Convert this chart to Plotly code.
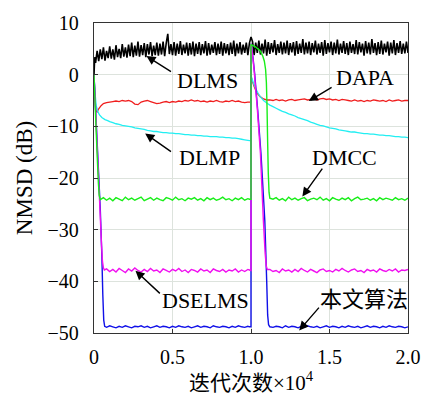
import plotly.graph_objects as go

# ---------------- data (x in units of 10^4 iterations, y in dB) ----------------
def grid(start, step, n):
    return [round(start + i * step, 4) for i in range(n)]

# DLMS (black)
dlms_head_x = [0, 0.003, 0.006]
dlms_head_y = [0, 2.2, 3.4]
dlms_vals = [
    2.3, 4.6, 2.6, 4.9, 3.0, 5.3, 2.7, 4.6, 3.2, 5.5, 3.1, 4.9, 2.9, 5.7, 3.4, 5.0, 3.2, 5.9, 3.5, 5.3,
    3.3, 5.8, 3.6, 6.2, 3.4, 5.6, 3.7, 6.4, 3.5, 5.7, 3.8, 6.1, 3.4, 5.9, 3.9, 6.3, 3.6, 5.6, 3.8, 6.2,
    3.7, 6.0, 3.9, 6.4, 3.6, 6.1, 7.9, 4.0, 5.9, 3.8, 6.3, 3.7, 6.0, 4.0, 6.5, 3.8, 5.8, 4.1, 6.2, 3.7,
    6.1, 3.9, 6.4, 3.6, 6.0, 4.0, 6.3, 3.8, 5.9, 4.1, 6.5, 3.7, 6.1, 3.9, 5.8, 4.2, 6.3, 3.8, 6.0, 4.0,
    6.4, 3.7, 6.1, 4.1, 5.9, 3.8, 6.2, 4.0, 6.6, 3.6, 6.0, 4.1, 6.3, 3.9, 5.8, 4.2, 6.2, 3.8, 6.1, 7.3,
    6.4, 3.8, 6.2, 4.2, 6.6, 3.9, 6.0, 4.1, 6.8, 3.7, 6.3, 4.0, 6.1, 4.3, 6.7, 3.8, 5.9, 4.2, 6.4, 3.9,
    6.2, 4.1, 6.6, 3.8, 6.1, 4.3, 6.3, 3.7, 6.5, 4.0, 6.0, 4.2, 6.9, 3.9, 6.2, 4.1, 6.4, 3.8, 6.1, 4.3,
    6.6, 3.9, 6.0, 4.2, 6.3, 3.7, 6.7, 4.0, 6.1, 4.3, 6.4, 3.8, 6.2, 4.1, 6.8, 3.9, 6.0, 4.2, 6.5, 4.0,
    6.1, 3.8, 6.4, 4.2, 5.9, 4.0, 6.7, 3.9, 6.3, 4.3, 6.0, 3.7, 6.5, 4.1, 6.2, 3.9, 6.9, 4.2, 6.1, 3.8,
    6.3, 4.0, 6.6, 3.9, 6.0, 4.3, 6.4, 3.7, 6.2, 4.1, 6.7, 3.8, 6.1, 4.2, 6.5, 4.0, 6.0, 4.1, 6.4, 4.2,
]

# DAPA (red)
dapa_t1_x = [0, 0.005, 0.012, 0.02, 0.03, 0.045, 0.06, 0.08, 0.1]
dapa_t1_y = [0, -4.0, -7.0, -7.2, -6.6, -6.0, -5.6, -5.4, -5.3]
dapa_p1 = [
    -5.2, -5.1, -5.2, -5.0, -5.1, -5.0, -5.2, -5.7, -5.8, -5.3,
    -5.1, -5.0, -5.2, -5.4, -5.6, -5.5, -5.3, -5.2, -5.4, -5.2,
    -5.3, -5.1, -5.2, -5.0, -5.1, -4.9, -5.1, -5.0, -5.2, -5.1,
    -5.3, -5.1, -5.2, -5.0, -5.2, -5.3, -5.1, -5.2, -5.0, -5.2,
    -5.1, -5.3, -5.4, -5.3,
]
dapa_t2_x = [1.0, 1.0, 1.01, 1.02, 1.03, 1.045, 1.06, 1.08, 1.1]
dapa_t2_y = [-5.3, -0.3, -1.4, -2.3, -3.0, -3.8, -4.3, -4.7, -4.9]
dapa_p2 = [
    -4.9, -5.0, -4.8, -5.0, -4.9, -5.1, -4.9, -4.8, -5.0, -4.9,
    -4.8, -4.7, -4.9, -4.8, -4.7, -4.9, -4.7, -4.6, -4.8, -4.7,
    -4.9, -4.8, -5.0, -4.8, -4.9, -5.0, -5.1, -4.9, -5.1, -5.0,
    -5.2, -5.0, -5.1, -4.9, -5.0, -5.1, -5.0, -5.2, -4.9, -5.1,
    -5.0, -4.9, -5.1, -5.0, -5.0,
]

# DLMP (cyan)
dlmp_t1_x = [0, 0.005, 0.014, 0.025, 0.035, 0.05, 0.07, 0.087, 0.1]
dlmp_t1_y = [0, -3.0, -6.0, -7.2, -7.8, -8.3, -8.7, -8.9, -9.1]
dlmp_p1 = [
    -9.3, -9.5, -9.6, -9.8, -9.9, -10.0, -10.1, -10.3, -10.4, -10.5,
    -10.6, -10.8, -10.9, -11.0, -11.0, -11.1, -11.2, -11.2, -11.3, -11.3,
    -11.4, -11.4, -11.5, -11.6, -11.6, -11.7, -11.7, -11.8, -11.8, -11.9,
    -11.9, -12.0, -12.0, -12.0, -12.1, -12.1, -12.2, -12.2, -12.3, -12.3,
    -12.4, -12.5, -12.6, -12.7,
]
dlmp_t2_x = [1.0, 1.0, 1.003, 1.015, 1.028, 1.045, 1.06, 1.08, 1.1]
dlmp_t2_y = [-12.8, 0.0, -0.5, -1.6, -2.6, -3.6, -4.3, -5.0, -5.5]
dlmp_p2 = [
    -5.9, -6.2, -6.5, -6.8, -7.1, -7.3, -7.6, -7.8, -8.0, -8.3,
    -8.5, -8.7, -8.9, -9.2, -9.4, -9.6, -9.8, -9.9, -10.1, -10.3,
    -10.4, -10.5, -10.7, -10.8, -10.9, -11.0, -11.1, -11.1, -11.2, -11.3,
    -11.4, -11.4, -11.5, -11.5, -11.6, -11.7, -11.7, -11.8, -11.8, -11.9,
    -12.0, -12.0, -12.1, -12.1, -12.2,
]

# DSELMS (magenta)
dselms_t1_x = [0, 0.01, 0.02, 0.03, 0.04, 0.048, 0.054, 0.06, 0.066]
dselms_t1_y = [0, -6.8, -13.8, -20.5, -27.5, -33.0, -36.2, -37.4, -37.8]
dselms_p1 = [
    -37.6, -38.1, -37.7, -38.2, -37.5, -37.9, -38.3, -37.6, -38.0, -37.4,
    -37.9, -38.2, -37.7, -38.1, -37.5, -38.0, -37.8, -38.3, -37.6, -37.9,
    -38.2, -37.7, -38.0, -37.5, -38.1, -37.8, -38.3, -37.7, -37.9, -38.2,
    -37.6, -38.0, -37.8, -38.3, -37.6, -37.9, -38.1, -37.7, -38.2, -37.8,
    -38.0, -37.6, -38.2, -37.8, -38.1, -37.7,
]
dselms_t2_x = [0.99, 1.0, 1.0, 1.01, 1.02, 1.04, 1.06, 1.079, 1.09, 1.097, 1.104]
dselms_t2_y = [-37.8, -37.9, 6.0, 3.8, 0.8, -6.5, -15.2, -28.3, -34.5, -37.0, -37.7]
dselms_p2 = [
    -37.7, -38.1, -37.9, -38.3, -37.6, -38.0, -37.8, -38.2, -37.7, -38.1,
    -37.5, -37.9, -38.2, -37.7, -38.0, -38.3, -37.8, -37.6, -38.1, -37.9,
    -38.2, -37.7, -38.0, -37.5, -37.9, -38.2, -37.8, -37.6, -38.1, -37.9,
    -38.3, -37.7, -38.0, -37.8, -38.2, -37.6, -37.9, -38.1, -37.7, -38.0,
    -37.6, -38.2, -37.8, -37.9, -37.7,
]

# DMCC (green)
dmcc_t1_x = [0, 0.01, 0.02, 0.028, 0.033, 0.038]
dmcc_t1_y = [0, -8.0, -15.5, -21.0, -23.3, -24.0]
dmcc_p1 = [
    -24.2, -23.8, -24.3, -23.9, -24.4, -23.8, -24.1, -24.4, -23.7, -24.2,
    -23.9, -24.3, -24.0, -23.7, -24.4, -24.1, -23.8, -24.3, -23.9, -24.2,
    -24.4, -23.8, -24.0, -24.3, -23.7, -24.2, -24.0, -24.4, -23.9, -24.1,
    -23.8, -24.3, -24.0, -24.4, -23.8, -24.2, -23.9, -24.3, -24.1, -23.7,
    -24.2, -24.0, -24.4, -23.9, -24.2, -23.8, -24.3, -24.0,
]
dmcc_t2_x = [0.99, 1.0, 1.0, 1.028, 1.059, 1.075, 1.085, 1.093, 1.098, 1.102, 1.106, 1.11, 1.115, 1.12]
dmcc_t2_y = [-24.1, -24.1, 5.8, 5.4, 4.6, 3.6, 2.6, 1.0, -1.5, -6.0, -13.0, -19.0, -22.8, -23.9]
dmcc_p2 = [
    -24.1, -23.8, -24.3, -24.0, -24.4, -23.7, -24.2, -23.9, -24.3, -24.0,
    -23.8, -24.4, -24.1, -23.9, -24.2, -23.7, -24.3, -24.0, -24.4, -23.8,
    -24.1, -24.3, -23.9, -24.2, -23.8, -24.4, -24.0, -23.7, -24.2, -24.1,
    -23.9, -24.3, -24.0, -24.4, -23.8, -24.2, -23.9, -24.1, -24.3, -23.8,
    -24.2, -24.0, -24.3, -23.9,
]

# Proposed algorithm (blue)
prop_t1_x = [0, 0.01, 0.02, 0.03, 0.04, 0.05, 0.056, 0.062, 0.068]
prop_t1_y = [0, -6.5, -13.0, -19.5, -26.0, -35.0, -42.5, -47.5, -48.7]
prop_p1 = [
    -48.9, -48.6, -48.8, -49.0, -48.7, -48.9, -48.6, -48.8, -49.0, -48.7,
    -48.8, -48.6, -48.9, -48.7, -49.0, -48.8, -48.6, -48.9, -48.7, -48.8,
    -49.0, -48.7, -48.9, -48.6, -48.8, -48.9, -48.7, -49.0, -48.8, -48.6,
    -48.9, -48.7, -48.8, -49.0, -48.6, -48.8, -48.9, -48.7, -48.8, -49.0,
    -48.7, -48.9, -48.6, -48.8, -48.9, -48.7,
]
prop_t2_x = [0.99, 1.0, 1.0, 1.012, 1.023, 1.043, 1.064, 1.088, 1.1, 1.106, 1.112, 1.12]
prop_t2_y = [-48.8, -48.8, 6.0, 3.5, 0.3, -7.0, -15.5, -28.3, -40.0, -46.5, -48.4, -48.8]
prop_p2 = [
    -48.9, -48.7, -48.8, -49.0, -48.6, -48.9, -48.7, -48.8, -49.0, -48.7,
    -48.9, -48.6, -48.8, -48.9, -48.7, -49.0, -48.8, -48.6, -48.9, -48.7,
    -48.8, -49.0, -48.7, -48.9, -48.6, -48.8, -48.9, -48.7, -49.0, -48.8,
    -48.6, -48.9, -48.7, -48.8, -49.0, -48.7, -48.9, -48.6, -48.8, -48.9,
    -48.7, -48.8, -49.0, -48.8,
]

x_tick_vals = [0, 0.5, 1.0, 1.5, 2.0]
x_tick_text = ["0", "0.5", "1.0", "1.5", "2.0"]
y_tick_vals = [10, 0, -10, -20, -30, -40, -50]
y_tick_text = ["10", "0", "−10", "−20", "−30", "−40", "−50"]

# ---------------- assemble series ----------------
series = [
    ("DLMS", "#000000", 1.6,
     dlms_head_x + grid(0.01, 0.01, len(dlms_vals)),
     dlms_head_y + dlms_vals),
    ("DAPA", "#f01e1e", 1.3,
     dapa_t1_x + grid(0.12, 0.02, len(dapa_p1)) + dapa_t2_x + grid(1.12, 0.02, len(dapa_p2)),
     dapa_t1_y + dapa_p1 + dapa_t2_y + dapa_p2),
    ("DLMP", "#22eef2", 1.3,
     dlmp_t1_x + grid(0.12, 0.02, len(dlmp_p1)) + dlmp_t2_x + grid(1.12, 0.02, len(dlmp_p2)),
     dlmp_t1_y + dlmp_p1 + dlmp_t2_y + dlmp_p2),
    ("本文算法", "#1010e8", 1.4,
     prop_t1_x + grid(0.08, 0.02, len(prop_p1)) + prop_t2_x + grid(1.14, 0.02, len(prop_p2)),
     prop_t1_y + prop_p1 + prop_t2_y + prop_p2),
    ("DSELMS", "#f010f0", 1.4,
     dselms_t1_x + grid(0.08, 0.02, len(dselms_p1)) + dselms_t2_x + grid(1.12, 0.02, len(dselms_p2)),
     dselms_t1_y + dselms_p1 + dselms_t2_y + dselms_p2),
    ("DMCC", "#18ee18", 1.4,
     dmcc_t1_x + grid(0.04, 0.02, len(dmcc_p1)) + dmcc_t2_x + grid(1.14, 0.02, len(dmcc_p2)),
     dmcc_t1_y + dmcc_p1 + dmcc_t2_y + dmcc_p2),
]

fig = go.Figure()
for name, color, width, xs, ys in series:
    fig.add_trace(go.Scatter(x=xs, y=ys, mode="lines", name=name,
                             line=dict(color=color, width=width, simplify=False),
                             showlegend=False))

serif = "Liberation Serif, Tinos, Times New Roman, DejaVu Serif, serif"
serif_cjk = "Liberation Serif, Tinos, Times New Roman, DejaVu Serif, Noto Sans CJK SC, serif"

# annotations: (label, head x, head y, tail x, tail y, text x, text y)
labels = [
    ("DLMS", 0.334, 3.6, 0.50, 0.4, 0.725, -1.2),
    ("DAPA", 1.368, -5.1, 1.523, -2.3, 1.725, -0.6),
    ("DLMP", 0.326, -11.4, 0.50, -15.1, 0.737, -16.1),
    ("DMCC", 1.327, -23.6, 1.461, -17.9, 1.598, -16.1),
    ("DSELMS", 0.264, -37.95, 0.429, -42.6, 0.709, -43.8),
    ("本文算法", 1.307, -49.5, 1.441, -44.8, 1.718, -43.5),
]
for text, hx, hy, tx, ty, lx, ly in labels:
    fig.add_annotation(x=hx, y=hy, ax=tx, ay=ty, axref="x", ayref="y", xref="x", yref="y",
                       text="", showarrow=True, arrowhead=2, arrowsize=1.3, arrowwidth=1.4,
                       arrowcolor="black", standoff=0)
    fig.add_annotation(x=lx, y=ly, xref="x", yref="y", text=text, showarrow=False,
                       font=dict(family=serif_cjk, size=22, color="black"))

grid_color = "#dde3dd"
fig.update_layout(
    width=433, height=401,
    margin=dict(l=94, r=16, t=16, b=65),
    paper_bgcolor="white", plot_bgcolor="white",
    font=dict(family=serif, color="black"),
)
fig.update_xaxes(
    range=[0, 2.0], tickvals=x_tick_vals, ticktext=x_tick_text,
    tickfont=dict(family=serif, size=20), ticks="inside", ticklen=4, tickcolor="#333",
    showline=True, linecolor="#333", linewidth=1.3, mirror=True,
    showgrid=True, gridcolor=grid_color, gridwidth=1, zeroline=False,
    ticklabelstandoff=6,
    title=dict(text="迭代次数×10<sup>4</sup>", font=dict(family=serif_cjk, size=21), standoff=6),
)
fig.update_yaxes(
    range=[-50, 10], tickvals=y_tick_vals, ticktext=y_tick_text,
    tickfont=dict(family=serif, size=20), ticks="inside", ticklen=4, tickcolor="#333",
    showline=True, linecolor="#333", linewidth=1.3, mirror=True,
    showgrid=True, gridcolor=grid_color, gridwidth=1, zeroline=False,
    ticklabelstandoff=10,
    title=dict(text="NMSD (dB)", font=dict(family=serif, size=23), standoff=8),
)

fig.write_html("out.html")
